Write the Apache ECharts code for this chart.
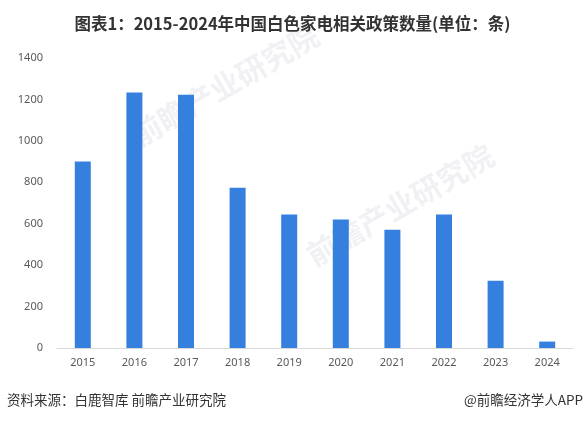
<!DOCTYPE html>
<html><head><meta charset="utf-8">
<script src="https://cdn.jsdelivr.net/npm/echarts@6/dist/echarts.min.js"></script>
<style>html,body{margin:0;padding:0;background:#fff}#c{width:585px;height:421px}</style>
</head><body><div id="c"></div>
<script>
const categories = ['2015','2016','2017','2018','2019','2020','2021','2022','2023','2024'];
const policyCounts = [900, 1234, 1223, 774, 644, 620, 571, 644, 325, 31];
const yTicks = [0, 200, 400, 600, 800, 1000, 1200, 1400];
const titleText = '图表1：2015-2024年中国白色家电相关政策数量(单位：条)';
const sourceText = '资料来源：白鹿智库 前瞻产业研究院';
const brandText = '@前瞻经济学人APP';
const watermarkText = '前瞻产业研究院';

const chart = echarts.init(document.getElementById('c'));
chart.setOption({
  backgroundColor: '#fff',
  animation: false,
  title: {
    text: titleText, left: 'center', top: 10,
    textStyle: {fontFamily: 'Noto Sans CJK SC', fontSize: 16.5, fontWeight: 'bold', color: '#333'}
  },
  graphic: [
    {type: 'text', x: 225, y: 85, rotation: Math.PI / 6, originX: 0, originY: 0, z: -1,
      style: {text: watermarkText, font: 'bold 30px "Noto Sans CJK SC"', fill: '#f0f1f4', textAlign: 'center', textVerticalAlign: 'middle'}},
    {type: 'text', x: 400, y: 205, rotation: Math.PI / 6, originX: 0, originY: 0, z: -1,
      style: {text: watermarkText, font: 'bold 30px "Noto Sans CJK SC"', fill: '#f0f1f4', textAlign: 'center', textVerticalAlign: 'middle'}},
    {type: 'text', left: 7, top: 393, style: {text: sourceText, font: '13.5px "Noto Sans CJK SC"', fill: '#333'}},
    {type: 'text', right: 2, top: 393, style: {text: brandText, font: '13.5px "Noto Sans CJK SC"', fill: '#333'}}
  ],
  grid: {left: 57, right: 12, top: 58, bottom: 73},
  xAxis: {
    type: 'category', data: categories,
    axisLine: {lineStyle: {color: '#d9d9d9'}},
    axisTick: {show: false},
    axisLabel: {color: '#595959', fontSize: 11, fontFamily: 'Noto Sans', margin: 9}
  },
  yAxis: {
    type: 'value', min: yTicks[0], max: yTicks[yTicks.length - 1], interval: 200,
    splitLine: {show: false},
    axisLine: {show: false}, axisTick: {show: false},
    axisLabel: {color: '#595959', fontSize: 11, fontFamily: 'Noto Sans', margin: 14,
      formatter: v => String(v)}
  },
  series: [{
    type: 'bar', data: policyCounts, barWidth: 16,
    itemStyle: {color: '#3580DF'}
  }]
});
</script></body></html>
